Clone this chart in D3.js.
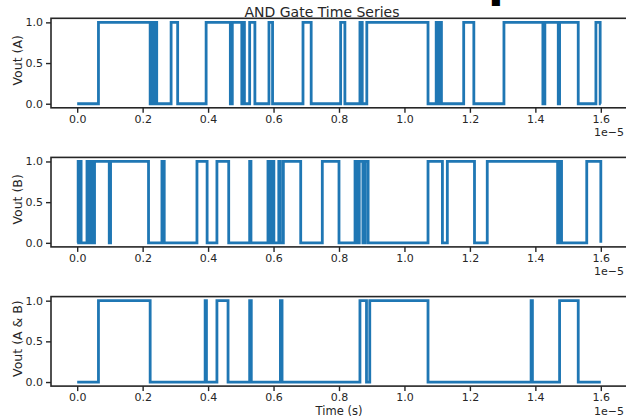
<!DOCTYPE html>
<html>
<head>
<meta charset="utf-8">
<script src="https://cdn.jsdelivr.net/npm/d3@7"></script>
<style>
  body { margin: 0; background: #fff; }
  svg { display: block; }
  text { font-family: "DejaVu Sans", sans-serif; fill: #262626; }
</style>
</head>
<body>
<svg id="chart" width="626" height="418"></svg>
<script>
// Times are in units of 1e-5 s; values are logic levels (V normalised).
const timeA = [0, 0.065, 0.223, 0.226, 0.229, 0.232, 0.236, 0.239, 0.243, 0.287, 0.307,
  0.394, 0.468, 0.474, 0.503, 0.507, 0.511, 0.527, 0.543, 0.586, 0.597, 0.690, 0.715,
  0.805, 0.818, 0.864, 0.871, 0.885, 1.072, 1.097, 1.101, 1.104, 1.107, 1.110, 1.113,
  1.181, 1.212, 1.304, 1.423, 1.429, 1.470, 1.474, 1.531, 1.585, 1.598, 1.600];
const voutA = [0, 1, 0, 1, 0, 1, 0, 1, 0, 1, 0,
  1, 0, 1, 0, 1, 0, 1, 0, 1, 0, 1, 0,
  1, 0, 1, 0, 1, 0, 1, 0, 1, 0, 1, 0,
  1, 0, 1, 0, 1, 0, 1, 0, 1, 0, 0];

const timeB = [0, 0.003, 0.007, 0.010, 0.012, 0.030, 0.035, 0.038, 0.042, 0.045, 0.050,
  0.053, 0.098, 0.102, 0.218, 0.259, 0.266, 0.366, 0.397, 0.427, 0.463, 0.527, 0.531,
  0.583, 0.589, 0.597, 0.601, 0.616, 0.621, 0.630, 0.683, 0.749, 0.800,
  0.849, 0.856, 0.862, 0.873, 0.880, 0.889, 1.072, 1.116, 1.131,
  1.214, 1.253, 1.468, 1.471, 1.474, 1.477, 1.480, 1.557, 1.600];
const voutB = [0, 1, 0, 1, 0, 1, 0, 1, 0, 1, 0,
  1, 0, 1, 0, 1, 0, 1, 0, 1, 0, 1, 0,
  1, 0, 1, 0, 1, 0, 1, 0, 1, 0,
  1, 0, 1, 0, 1, 0, 1, 0, 1, 0,
  1, 0, 1, 0, 1, 0, 1, 0, 0];

const timeAB = [0, 0.065, 0.223, 0.391, 0.395, 0.427, 0.461, 0.527, 0.532, 0.621, 0.626,
  0.864, 0.884, 0.894, 1.072, 1.387, 1.391, 1.474, 1.531, 1.600];
const voutAB = [0, 1, 0, 1, 0, 1, 0, 1, 0, 1, 0,
  1, 0, 1, 0, 1, 0, 1, 0, 0];

const xTicks = [0.0, 0.2, 0.4, 0.6, 0.8, 1.0, 1.2, 1.4, 1.6];
const yTicks = [0.0, 0.5, 1.0];
const panelLabels = ["Vout (A)", "Vout (B)", "Vout (A & B)"];

const series = [
  { label: panelLabels[0], time: timeA, vout: voutA },
  { label: panelLabels[1], time: timeB, vout: voutB },
  { label: panelLabels[2], time: timeAB, vout: voutAB }
];

const svg = d3.select("#chart");
const ink = "#262626";
const left = 51, right = 627, panelH = 89.5;
const panelTops = [18.3, 157.4, 296.6];

const x = d3.scaleLinear().domain([-0.08, 1.68]).range([left, right]);

series.forEach((s, i) => {
  const top = panelTops[i];
  const y = d3.scaleLinear().domain([-0.05, 1.05]).range([top + panelH, top]);
  const g = svg.append("g");

  const pts = s.time.map((t, k) => [t, s.vout[k]]);
  const line = d3.line().x(d => x(d[0])).y(d => y(d[1])).curve(d3.curveStepAfter);
  g.append("path")
    .datum(pts)
    .attr("d", line)
    .attr("fill", "none")
    .attr("stroke", "#1f77b4")
    .attr("stroke-width", 2.8)
    .attr("stroke-linejoin", "miter");

  // frame (right edge falls just outside the canvas)
  g.append("rect")
    .attr("x", left).attr("y", top)
    .attr("width", right - left).attr("height", panelH)
    .attr("fill", "none").attr("stroke", ink).attr("stroke-width", 1.6);

  const xAxis = g.append("g")
    .attr("transform", `translate(0,${top + panelH})`)
    .call(d3.axisBottom(x).tickValues(xTicks).tickFormat(d3.format(".1f"))
      .tickSize(5).tickPadding(2));
  const yAxis = g.append("g")
    .attr("transform", `translate(${left},0)`)
    .call(d3.axisLeft(y).tickValues(yTicks).tickFormat(d3.format(".1f"))
      .tickSize(5).tickPadding(3));
  [xAxis, yAxis].forEach(a => {
    a.select(".domain").remove();
    a.selectAll("line").attr("stroke", ink).attr("stroke-width", 1.4);
    a.selectAll("text").attr("fill", ink).style("font-size", "11px")
      .style("font-family", "DejaVu Sans, sans-serif");
  });

  // axis offset multiplier
  g.append("text")
    .attr("x", 624).attr("y", top + panelH + 28.5)
    .attr("text-anchor", "end")
    .style("font-size", "11px")
    .text("1e\u22125");

  g.append("text")
    .attr("transform", `translate(22,${top + 42}) rotate(-90)`)
    .attr("text-anchor", "middle")
    .style("font-size", "12.5px")
    .text(s.label);
});

// heading sitting above the top edge; only its descender reaches the canvas
svg.append("text")
  .attr("x", 488).attr("y", -4.5)
  .style("font-size", "46px")
  .style("font-weight", "bold")
  .style("fill", "#000")
  .text("p");

svg.append("text")
  .attr("x", 322).attr("y", 16.5)
  .attr("text-anchor", "middle")
  .style("font-size", "14px")
  .text("AND Gate Time Series");

svg.append("text")
  .attr("x", (left + right) / 2).attr("y", 414.5)
  .attr("text-anchor", "middle")
  .style("font-size", "11.5px")
  .text("Time (s)");
</script>
</body>
</html>
